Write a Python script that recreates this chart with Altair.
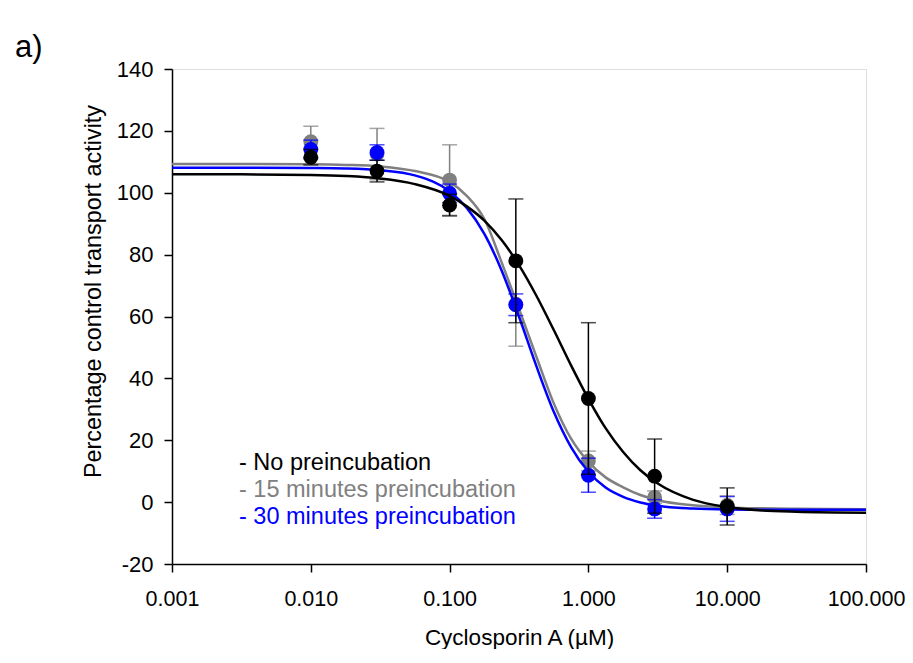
import altair as alt
import pandas as pd

# ---- measured data (mean ± error) ----
conc = [0.01, 0.03, 0.1, 0.3, 1.0, 3.0, 10.0]
black_mean = [111.5, 107.0, 96.0, 78.0, 33.5, 8.4, -1.4]
black_err = [2.5, 3.5, 3.5, 20.0, 24.5, 12.0, 6.0]
gray_mean = [116.5, 112.5, 104.1, 64.0, 13.3, 1.6, -1.0]
gray_err = [5.0, 8.3, 11.4, 13.6, 3.2, 2.0, 3.0]
blue_mean = [114.0, 113.0, 99.8, 63.8, 8.7, -2.2, -2.2]
blue_err = [3.0, 2.5, 3.0, 3.5, 5.5, 3.0, 4.0]

# ---- fitted curves ----
curve_conc = [0.001, 0.00316, 0.01, 0.0178, 0.0316, 0.0562, 0.1, 0.133, 0.178,
              0.237, 0.316, 0.422, 0.562, 0.750, 1.0, 1.33, 1.78, 2.37, 3.16,
              5.62, 10.0, 17.8, 31.6, 100.0]
black_curve = [106.0, 105.95, 105.74, 105.4, 104.6, 102.8, 99.0, 95.6, 91.0,
               84.7, 76.6, 66.7, 55.7, 44.2, 33.4, 23.9, 16.2, 10.3, 6.0,
               0.8, -1.6, -2.7, -3.1, -3.4]
gray_curve = [109.3, 109.3, 109.2, 109.0, 108.5, 107.0, 103.5, 99.0, 91.5,
              77.5, 62.5, 47.0, 32.0, 20.5, 13.0, 8.0, 4.8, 2.3, 0.6,
              -1.0, -1.7, -2.0, -2.15, -2.3]
blue_curve = [108.1, 108.1, 108.0, 107.85, 107.3, 105.6, 100.45, 95.1, 86.7,
              74.9, 60.0, 43.95, 29.3, 17.8, 9.8, 4.7, 1.7, -0.1, -1.2,
              -2.1, -2.4, -2.45, -2.5, -2.5]

legend_labels = ["- No preincubation", "- 15 minutes preincubation", "- 30 minutes preincubation"]
legend_colors = ["#000000", "#808080", "#0000ff"]
legend_y = [394, 421, 448]

x_ticks = [0.001, 0.01, 0.1, 1, 10, 100]
y_ticks = [-20, 0, 20, 40, 60, 80, 100, 120, 140]

FONT = "Liberation Sans"

xscale = alt.Scale(type="log", domain=[0.001, 100])
yscale = alt.Scale(domain=[-20, 140], nice=False, zero=False)

xaxis = alt.Axis(values=x_ticks, format=".3f", title="Cyclosporin A (µM)",
                 grid=False, tickSize=8, labelPadding=16, titlePadding=17,
                 labelFontSize=21.5, titleFontSize=22.5, labelFont=FONT, titleFont=FONT,
                 titleFontWeight="normal", labelColor="#000000", titleColor="#000000",
                 domainColor="#000000", tickColor="#000000", domainWidth=1.5, tickWidth=1.5,
                 labelFlush=False)
yaxis = alt.Axis(values=y_ticks, title="Percentage control transport activity",
                 labelExpr="'' + datum.value",
                 grid=False, tickSize=8, labelPadding=11,
                 titleX=-67, titleY=222, titleAlign="center", titleBaseline="bottom",
                 labelFontSize=22, titleFontSize=23.4, labelFont=FONT, titleFont=FONT,
                 titleFontWeight="normal", labelColor="#000000", titleColor="#000000",
                 domainColor="#000000", tickColor="#000000", domainWidth=1.5, tickWidth=1.5)

layers = []
series = [
    ("15 minutes preincubation", gray_mean, gray_err, gray_curve, "#808080"),
    ("30 minutes preincubation", blue_mean, blue_err, blue_curve, "#0000ff"),
    ("No preincubation", black_mean, black_err, black_curve, "#000000"),
]
for name, mean, err, curve, color in series:
    pts = pd.DataFrame({"conc": conc, "mean": mean, "err": err})
    cdf = pd.DataFrame({"conc": curve_conc, "val": curve})
    base = alt.Chart(pts).transform_calculate(
        lo="datum.mean - datum.err", hi="datum.mean + datum.err")
    rule = base.mark_rule(color=color, strokeWidth=1.5).encode(
        x=alt.X("conc:Q", scale=xscale, axis=xaxis),
        y=alt.Y("lo:Q", scale=yscale, axis=yaxis), y2="hi:Q")
    cap_lo = base.mark_tick(color=color, orient="horizontal", size=15, thickness=1.5).encode(
        x=alt.X("conc:Q", scale=xscale), y=alt.Y("lo:Q", scale=yscale))
    cap_hi = base.mark_tick(color=color, orient="horizontal", size=15, thickness=1.5).encode(
        x=alt.X("conc:Q", scale=xscale), y=alt.Y("hi:Q", scale=yscale))
    line = alt.Chart(cdf).mark_line(color=color, strokeWidth=2.5, interpolate="monotone").encode(
        x=alt.X("conc:Q", scale=xscale), y=alt.Y("val:Q", scale=yscale))
    dots = alt.Chart(pts).mark_circle(color=color, size=220, opacity=1).encode(
        x=alt.X("conc:Q", scale=xscale), y=alt.Y("mean:Q", scale=yscale))
    layers += [rule, cap_lo, cap_hi, line, dots]

for lab, col, yy in zip(legend_labels, legend_colors, legend_y):
    layers.append(
        alt.Chart(pd.DataFrame({"t": [lab]})).mark_text(
            align="left", baseline="middle", fontSize=23.5, font=FONT, color=col
        ).encode(text="t:N", x=alt.value(67), y=alt.value(yy))
    )

layers.append(
    alt.Chart(pd.DataFrame({"t": ["a)"]})).mark_text(
        align="left", baseline="middle", fontSize=31, font=FONT, color="#000000"
    ).encode(text="t:N", x=alt.value(-157), y=alt.value(-21))
)

chart = alt.layer(*layers).properties(
    width=694, height=495,
    autosize=alt.AutoSizeParams(type="none"),
    padding={"left": 164, "top": 61, "right": 39, "bottom": 85},
).configure_view(stroke="#000000", strokeWidth=1.5).configure(background="white")

chart.save("out.html", embed_options={"renderer": "svg", "actions": False})
